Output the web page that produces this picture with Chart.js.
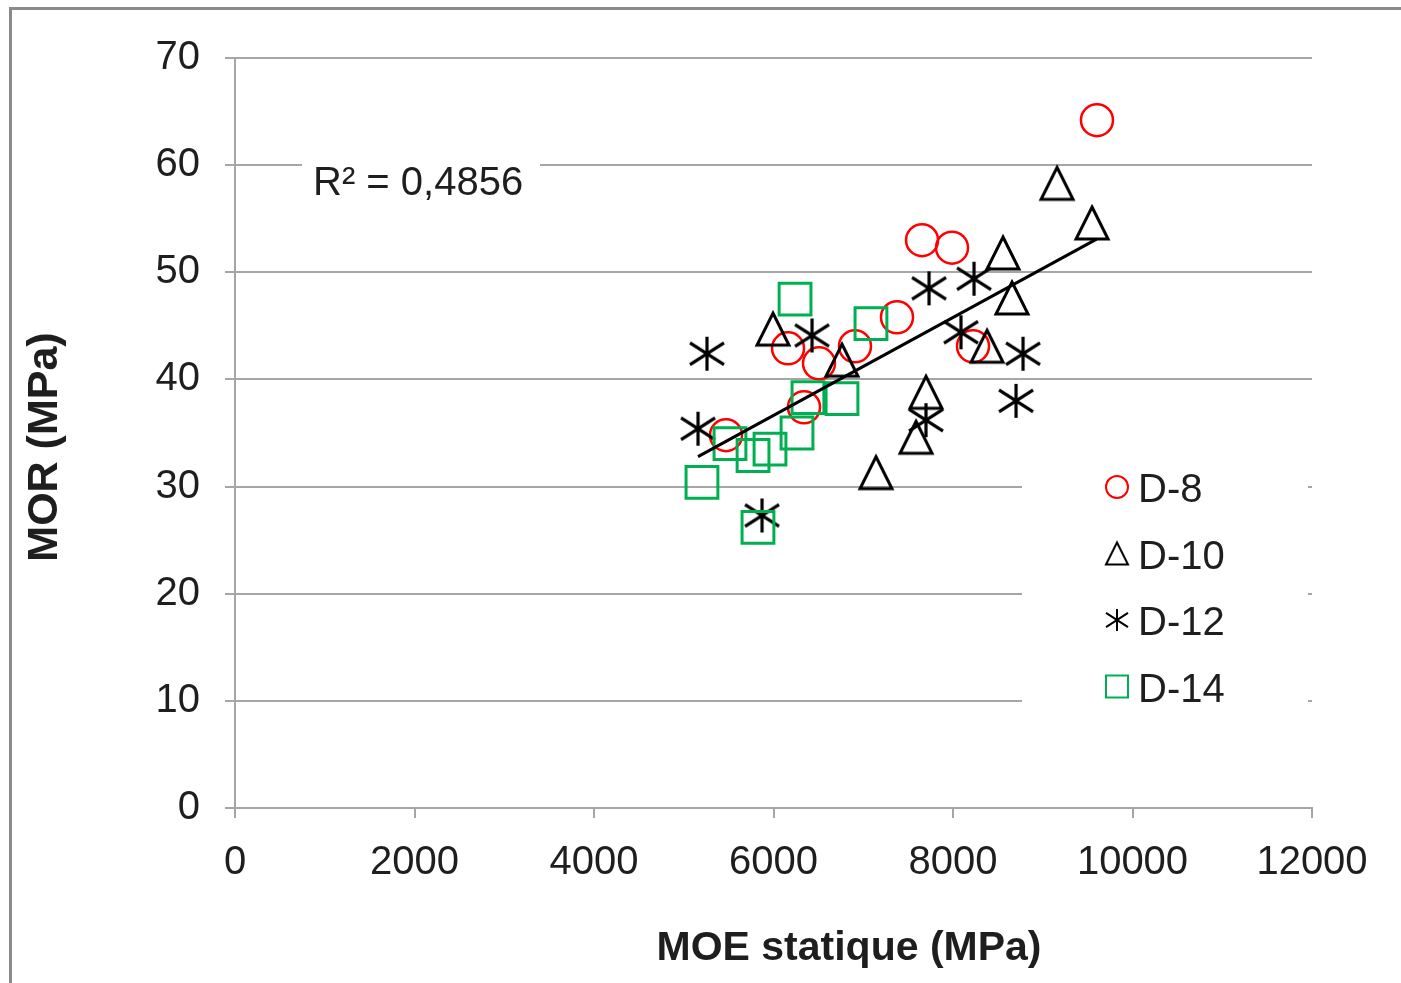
<!DOCTYPE html>
<html>
<head>
<meta charset="utf-8">
<script src="https://cdn.jsdelivr.net/npm/chart.js@4/dist/chart.umd.min.js"></script>
<style>
  html, body { margin: 0; padding: 0; background: #fff; overflow: hidden; }
  #frame { position: absolute; left: 9px; top: 7px; width: 1600px; height: 1200px;
           border: 3px solid #8a8a8a; box-sizing: border-box; }
  #wrap { position: absolute; left: 0; top: 0; width: 1401px; height: 983px; }
</style>
</head>
<body>
<div id="frame"></div>
<div id="wrap"><canvas id="chart"></canvas></div>
<script>
// MOE statique (x) / MOR (y)
const d8X  = [9604, 7655, 7989, 7376, 6908, 6162, 6507, 8223, 6340, 5471];
const d8Y  = [64.2, 53.0, 52.3, 45.8, 43.1, 42.9, 41.5, 43.1, 37.4, 34.8];
const d10X = [9159, 9549, 8557, 8657, 8379, 5994, 6763, 7699, 7588, 7142];
const d10Y = [58.3, 54.6, 51.8, 47.6, 43.1, 44.7, 41.8, 38.8, 34.6, 31.3];
const d12X = [7733, 8234, 8089, 8780, 8702, 7699, 6429, 5259, 5159, 5872];
const d12Y = [48.5, 49.4, 44.4, 42.4, 38.0, 36.2, 44.1, 42.4, 35.4, 27.3];
const d14X = [6240, 7086, 6384, 6763, 6262, 5515, 5772, 5961, 5203, 5827];
const d14Y = [47.5, 45.2, 38.3, 38.2, 35.0, 34.0, 32.9, 33.5, 30.4, 26.2];
const trendX = [5159, 9600];
const trendY = [32.8, 53.1];

const seriesNames = ['D-8', 'D-10', 'D-12', 'D-14'];
const r2Label = 'R\u00b2 = 0,4856';
const xTitle = 'MOE statique (MPa)';
const yTitle = 'MOR (MPa)';

const RED = '#ff0000', BLACK = '#000000', GREEN = '#00b050';
const TEXT = '#1e1e1e', GRID = '#a6a6a6';
const FONT = "'Liberation Sans', Arial, sans-serif";

function pts(xs, ys) { return xs.map((x, i) => ({ x, y: ys[i] })); }

// custom marker shapes (triangle centred on its box, Excel-style asterisk)
function marker(kind, size, color, lw) {
  const pad = Math.ceil(lw) + 1;
  const c = document.createElement('canvas');
  c.width = c.height = size + pad * 2;
  const g = c.getContext('2d');
  g.strokeStyle = color;
  g.lineWidth = lw;
  const o = pad, s = size;
  g.beginPath();
  if (kind === 'tri') {
    g.moveTo(o + s / 2, o);
    g.lineTo(o + s, o + s);
    g.lineTo(o, o + s);
    g.closePath();
  } else if (kind === 'star') {
    g.moveTo(o + s / 2, o);
    g.lineTo(o + s / 2, o + s);
    g.moveTo(o, o + s * 0.18);
    g.lineTo(o + s, o + s * 0.82);
    g.moveTo(o + s, o + s * 0.18);
    g.lineTo(o, o + s * 0.82);
  } else if (kind === 'circle') {
    g.arc(o + s / 2, o + s / 2, s / 2, 0, Math.PI * 2);
  } else {
    g.rect(o, o, s, s);
  }
  g.stroke();
  return c;
}

const triBig  = marker('tri', 32, BLACK, 3);
const starBig = marker('star', 34, BLACK, 3.2);
const legendMarks = [
  marker('circle', 22, RED, 2),
  marker('tri', 22, BLACK, 2),
  marker('star', 22, BLACK, 2),
  marker('rect', 22, GREEN, 2),
];

const overlay = {
  id: 'overlay',
  beforeDatasetsDraw(chart) {
    const ctx = chart.ctx;
    ctx.save();
    // white boxes behind the R² label and the legend
    ctx.fillStyle = '#fff';
    ctx.fillRect(302, 150, 238, 60);
    ctx.fillRect(1022, 450, 286, 275);

    ctx.fillStyle = TEXT;
    ctx.font = '40px ' + FONT;
    ctx.textBaseline = 'alphabetic';
    ctx.textAlign = 'left';
    ctx.fillText(r2Label, 313, 195);

    seriesNames.forEach((name, i) => {
      const cy = 487 + i * 66.5;
      const m = legendMarks[i];
      ctx.drawImage(m, 1117 - m.width / 2, cy - m.height / 2);
      ctx.fillStyle = TEXT;
      ctx.fillText(name, 1138, cy + 15);
    });
    ctx.restore();
  },
  afterDraw(chart) {
    const ctx = chart.ctx;
    ctx.save();
    ctx.fillStyle = TEXT;
    ctx.font = 'bold 41px ' + FONT;
    ctx.textAlign = 'center';
    ctx.textBaseline = 'alphabetic';
    ctx.fillText(xTitle, 849, 960);
    ctx.translate(57, 447);
    ctx.rotate(-Math.PI / 2);
    ctx.font = 'bold 43px ' + FONT;
    ctx.fillText(yTitle, 0, 0);
    ctx.restore();
  }
};

new Chart(document.getElementById('chart'), {
  type: 'scatter',
  data: {
    datasets: [
      {
        label: 'trend', type: 'line', data: pts(trendX, trendY),
        borderColor: BLACK, borderWidth: 3, pointRadius: 0, fill: false, order: 0,
      },
      {
        label: seriesNames[0], data: pts(d8X, d8Y), pointStyle: 'circle', pointRadius: 16,
        borderColor: RED, backgroundColor: 'transparent', pointBorderWidth: 2.5, order: 4,
      },
      {
        label: seriesNames[1], data: pts(d10X, d10Y), pointStyle: triBig, pointRadius: 16,
        borderColor: BLACK, backgroundColor: 'transparent', order: 3,
      },
      {
        label: seriesNames[2], data: pts(d12X, d12Y), pointStyle: starBig, pointRadius: 16,
        borderColor: BLACK, backgroundColor: 'transparent', order: 2,
      },
      {
        label: seriesNames[3], data: pts(d14X, d14Y), pointStyle: 'rect', pointRadius: 22.5,
        borderColor: GREEN, backgroundColor: 'transparent', pointBorderWidth: 3, order: 1,
      },
    ]
  },
  options: {
    responsive: true,
    maintainAspectRatio: false,
    animation: false,
    events: [],
    layout: { padding: { left: 0, top: 58, right: 89, bottom: 0 } },
    plugins: { legend: { display: false }, tooltip: { enabled: false } },
    scales: {
      x: {
        type: 'linear', min: 0, max: 12000,
        afterFit: s => { s.height = 175; },
        border: { color: GRID, width: 2 },
        grid: { drawOnChartArea: false, drawTicks: true, tickLength: 10, color: GRID, lineWidth: 2 },
        ticks: { stepSize: 2000, color: TEXT, font: { family: FONT, size: 40 }, padding: 21,
                 maxRotation: 0, callback: v => String(v) }
      },
      y: {
        type: 'linear', min: 0, max: 70,
        afterFit: s => { s.width = 235; },
        border: { color: GRID, width: 2 },
        grid: { color: GRID, lineWidth: 2, tickLength: 10 },
        ticks: { stepSize: 10, color: TEXT, font: { family: FONT, size: 40 }, padding: 25 }
      }
    }
  },
  plugins: [overlay]
});
</script>
</body>
</html>
